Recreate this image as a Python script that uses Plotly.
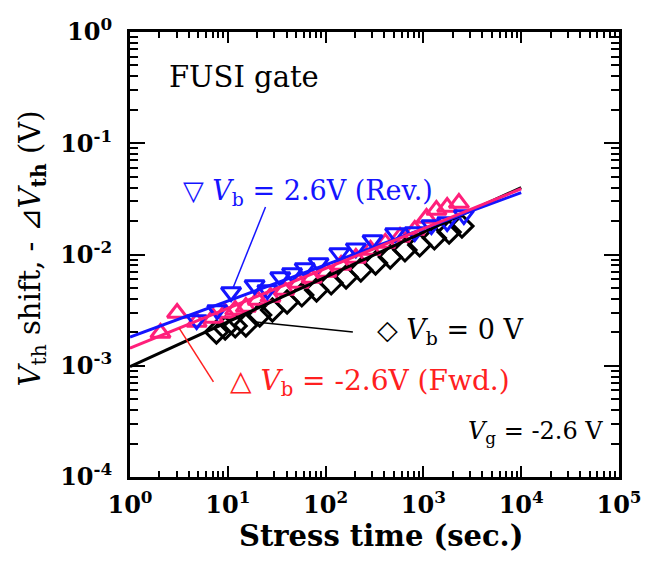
import plotly.graph_objects as go

# Stress time (s) and threshold-voltage shift (V) for each body bias
t_rev = [4.8, 7.8, 10.8, 18.8, 25.4, 34.4, 45.4, 61.2, 84.7, 138, 204, 302, 514, 816, 1208, 1750, 2593]
v_rev = [2.58e-3, 3.17e-3, 4.60e-3, 5.32e-3, 4.80e-3, 6.28e-3, 6.82e-3, 7.56e-3, 8.39e-3,
         1.03e-2, 1.14e-2, 1.35e-2, 1.56e-2, 1.59e-2, 1.84e-2, 1.96e-2, 2.26e-2]

t_fwd = [2.05, 3.03, 4.8, 7.1, 9.4, 11.9, 15.3, 20.2, 27.3, 37.7, 53.3, 72, 102, 144, 204,
         288, 408, 577, 816, 1076, 1358, 1750, 2307]
v_fwd = [1.97e-3, 2.98e-3, 2.47e-3, 2.69e-3, 2.98e-3, 3.17e-3, 3.37e-3, 3.90e-3, 4.15e-3,
         4.80e-3, 5.55e-3, 6.15e-3, 6.96e-3, 8.05e-3, 9.31e-3, 1.10e-2, 1.27e-2, 1.44e-2,
         1.66e-2, 2.13e-2, 2.51e-2, 2.67e-2, 2.90e-2]

t_zero = [7.65, 9.4, 11.9, 15.3, 21.2, 28.6, 40.4, 57.1, 80.8, 114, 162, 229, 324, 458, 648,
          916, 1295, 1832, 2477]
v_zero = [2.01e-3, 2.18e-3, 2.28e-3, 2.32e-3, 2.86e-3, 3.17e-3, 3.74e-3, 4.33e-3, 4.80e-3,
          5.55e-3, 6.28e-3, 7.26e-3, 8.39e-3, 9.50e-3, 1.10e-2, 1.22e-2, 1.41e-2, 1.59e-2, 1.80e-2]

# Power-law fit end points (t = 1 s and t = 10^4 s)
fit_t = [1, 1e4]
fit_zero = [0.98e-3, 4.0e-2]
fit_fwd = [1.44e-3, 3.9e-2]
fit_rev = [1.81e-3, 3.6e-2]

# Leader lines from labels to the data
lead_rev_t, lead_rev_v = [24.3, 11.3], [2.67e-2, 5.0e-3]
lead_zero_t, lead_zero_v = [19.3, 190], [2.47e-3, 2.01e-3]
lead_fwd_t, lead_fwd_v = [3.18, 7.13], [2.18e-3, 7.16e-4]

x_ticks = [1, 10, 100, 1e3, 1e4, 1e5]
x_ticktext = ["10<sup>0</sup>", "10<sup>1</sup>", "10<sup>2</sup>", "10<sup>3</sup>",
              "10<sup>4</sup>", "10<sup>5</sup>"]
y_ticks = [1e-4, 1e-3, 1e-2, 1e-1, 1]
y_ticktext = ["10<sup>-4</sup>", "10<sup>-3</sup>", "10<sup>-2</sup>", "10<sup>-1</sup>",
              "10<sup>0</sup>"]

# minor ticks at 2..9 within each decade
x_minor = [m * d for d in x_ticks[:-1] for m in range(2, 10)]
y_minor = [m * d for d in y_ticks[:-1] for m in range(2, 10)]

BLUE = "#1414ff"
PINK = "#ff1f7a"
RED = "#ff2020"
BLACK = "#000000"
FONT = "DejaVu Serif"
MSIZE = 17

fig = go.Figure()

fig.add_trace(go.Scatter(x=t_zero, y=v_zero, mode="markers",
                         marker=dict(symbol="diamond-open", size=MSIZE, color=BLACK,
                                     line=dict(width=3, color=BLACK))))
fig.add_trace(go.Scatter(x=t_fwd, y=v_fwd, mode="markers",
                         marker=dict(symbol="triangle-up-open", size=MSIZE, color=PINK,
                                     line=dict(width=3, color=PINK))))
fig.add_trace(go.Scatter(x=t_rev, y=v_rev, mode="markers",
                         marker=dict(symbol="triangle-down-open", size=MSIZE, color=BLUE,
                                     line=dict(width=3, color=BLUE))))

fig.add_trace(go.Scatter(x=fit_t, y=fit_zero, mode="lines", line=dict(color=BLACK, width=3)))
fig.add_trace(go.Scatter(x=fit_t, y=fit_rev, mode="lines", line=dict(color=BLUE, width=3)))
fig.add_trace(go.Scatter(x=fit_t, y=fit_fwd, mode="lines", line=dict(color=PINK, width=3)))

fig.add_trace(go.Scatter(x=lead_rev_t, y=lead_rev_v, mode="lines", line=dict(color=BLUE, width=1.5)))
fig.add_trace(go.Scatter(x=lead_zero_t, y=lead_zero_v, mode="lines", line=dict(color=BLACK, width=1.5)))
fig.add_trace(go.Scatter(x=lead_fwd_t, y=lead_fwd_v, mode="lines", line=dict(color=RED, width=1.5)))

axis_common = dict(
    type="log", showgrid=False, zeroline=False,
    showline=True, linecolor=BLACK, linewidth=3, mirror="ticks",
    ticks="inside", tickcolor=BLACK, tickwidth=2,
    tickfont=dict(family=FONT, size=24, color=BLACK, weight="bold"),
)

fig.update_xaxes(range=[0, 5], tickvals=x_ticks, ticktext=x_ticktext, ticklen=11,
                 ticklabelstandoff=4,
                 minor=dict(tickvals=x_minor, ticks="inside", ticklen=6, tickwidth=1.5,
                            tickcolor=BLACK, showgrid=False),
                 **axis_common)
fig.update_yaxes(range=[-4, 0], tickvals=y_ticks, ticktext=y_ticktext, ticklen=15,
                 ticklabelstandoff=10,
                 minor=dict(tickvals=y_minor, ticks="inside", ticklen=8, tickwidth=1.5,
                            tickcolor=BLACK, showgrid=False),
                 **axis_common)

annotations = [
    dict(text="FUSI gate", x=0.076, y=0.899, xanchor="left", yanchor="middle",
         font=dict(family=FONT, size=29, color=BLACK)),
    dict(text="▽ <i>V</i><sub>b</sub> = 2.6V (Rev.)", x=0.104, y=0.640,
         xanchor="left", yanchor="middle", font=dict(family=FONT, size=27, color=BLUE)),
    dict(text="◇ <i>V</i><sub>b</sub> = 0 V", x=0.502, y=0.326,
         xanchor="left", yanchor="middle", font=dict(family=FONT, size=27, color=BLACK)),
    dict(text="△ <i>V</i><sub>b</sub> = -2.6V (Fwd.)", x=0.201, y=0.213,
         xanchor="left", yanchor="middle", font=dict(family=FONT, size=28, color=RED)),
    dict(text="<i>V</i><sub>g</sub> = -2.6 V", x=0.972, y=0.099,
         xanchor="right", yanchor="middle", font=dict(family=FONT, size=24, color=BLACK)),
    dict(text="<b>Stress time (sec.)</b>", x=0.514, y=-0.133,
         xanchor="center", yanchor="middle", font=dict(family=FONT, size=29, color=BLACK)),
    dict(text="<i>V</i><sub>th</sub> shift, - ⊿<i>V</i><sub><b>th</b></sub> (V)",
         x=-0.2, y=0.514, textangle=-90,
         xanchor="center", yanchor="middle", font=dict(family=FONT, size=29, color=BLACK)),
]
for a in annotations:
    a.update(xref="paper", yref="paper", showarrow=False)

fig.update_layout(
    width=654, height=567,
    margin=dict(l=130, r=26, t=32, b=90),
    paper_bgcolor="white", plot_bgcolor="white",
    showlegend=False,
    annotations=annotations,
)

fig.write_html("out.html")
